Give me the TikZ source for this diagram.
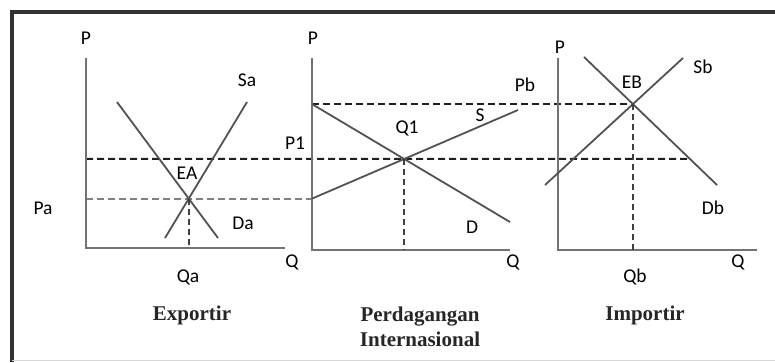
\documentclass[tikz,border=0pt]{standalone}
\usepackage{fontspec}
\setmainfont{Liberation Serif}
\newfontfamily\lblfont{Carlito}
\begin{document}
\begin{tikzpicture}[x=1pt,y=-1pt,
  lbl/.style={font=\lblfont\fontsize{19.5}{19.5}\selectfont, inner sep=0pt, text=black},
  ttl/.style={font=\bfseries\fontsize{21}{25}\selectfont, inner sep=0pt, align=center, text=black!85},
  axis/.style={draw=black!55, line width=1.8pt},
  curve/.style={draw=black!68, line width=1.8pt},
  bdash/.style={draw=black!88, line width=2pt, dash pattern=on 7pt off 4pt},
  gdash/.style={draw=black!50, line width=2pt, dash pattern=on 7pt off 4pt},
  vdash/.style={draw=black!75, line width=1.6pt, dash pattern=on 6pt off 4pt},
  frame/.style={draw=black!80, line width=3.4pt}]
\useasboundingbox (0,0) rectangle (775,362);
% frame
\coordinate (fbl) at (12,362);
\coordinate (ftl) at (12,12);
\coordinate (ftr) at (775,12);
\draw[frame] (fbl) -- (ftl) -- (ftr);
\coordinate (bbl) at (12,360);
\coordinate (bbr) at (775,360);
\draw[draw=black!15, line width=1pt] (bbl) -- (bbr);

% ---------- panel 1: Exportir ----------
\coordinate (o1) at (86,248);
\coordinate (p1top) at (86,58);
\coordinate (q1end) at (285,248);
\coordinate (sa1) at (165,238);
\coordinate (sa2) at (247,102);
\coordinate (da1) at (117,102);
\coordinate (da2) at (218,238);
\coordinate (ea) at (intersection of sa1--sa2 and da1--da2);

% ---------- panel 2 ----------
\coordinate (o2) at (312,250);
\coordinate (p2top) at (312,58);
\coordinate (q2end) at (510,250);

% ---------- panel 3: Importir ----------
\coordinate (o3) at (558,250);
\coordinate (p3top) at (558,58);
\coordinate (q3end) at (757,250);
\coordinate (sb1) at (545,185);
\coordinate (sb2) at (683,58);
\coordinate (db1) at (584,57);
\coordinate (db2) at (717,185);
\coordinate (eb) at (intersection of sb1--sb2 and db1--db2);

% panel 2 curves anchored on prices
\coordinate (pbL) at (o2 |- eb);
\coordinate (paL) at (o1 |- ea);
\coordinate (paR) at (o2 |- ea);
\coordinate (d2) at (510,222);
\coordinate (s2) at (518,110);
\coordinate (q1pt) at (intersection of pbL--d2 and paR--s2);
\coordinate (p1L) at (o1 |- q1pt);
\coordinate (p1R) at (intersection of db1--db2 and p1L--q1pt);

% dashed price lines
\draw[gdash] (paL) -- (paR);
\draw[bdash] (p1L) -- (p1R);
\draw[bdash] (pbL) -- (eb);

% axes
\draw[axis] (p1top) -- (o1) -- (q1end);
\draw[axis] (p2top) -- (o2) -- (q2end);
\draw[axis] (p3top) -- (o3) -- (q3end);

% curves
\draw[curve] (sa1) -- (sa2);
\draw[curve] (da1) -- (da2);
\draw[curve] (pbL) -- (d2);
\draw[curve] (paR) -- (s2);
\draw[curve] (sb1) -- (sb2);
\draw[curve] (db1) -- (db2);

% verticals
\coordinate (qa) at (ea |- o1);
\coordinate (q1b) at (q1pt |- o2);
\coordinate (qb) at (eb |- o3);
\draw[vdash] (ea) -- (qa);
\draw[vdash] (q1pt) -- (q1b);
\draw[vdash] (eb) -- (qb);

% labels panel 1
\node[lbl] (lP1) at (86,38) {P};
\node[lbl] (lSa) at (247,80) {Sa};
\node[lbl] (lEA) at (187,173) {EA};
\node[lbl] (lPa) at (43,208) {Pa};
\node[lbl] (lDa) at (243,223) {Da};
\node[lbl] (lQa) at (188,277) {Qa};
\node[lbl] (lQ1) at (292,262) {Q};
\node[ttl] (tE) at (192,315) {Exportir};

% labels panel 2
\node[lbl] (lP2) at (313,38) {P};
\node[lbl] (lPb) at (525,85) {Pb};
\node[lbl] (lS) at (480,115) {S};
\node[lbl] (lQone) at (407,128) {Q1};
\node[lbl] (lPone) at (295,143) {P1};
\node[lbl] (lD) at (472,227) {D};
\node[lbl] (lQ2) at (513,262) {Q};
\node[ttl] (tP) at (420,327) {Perdagangan\\Internasional};

% labels panel 3
\node[lbl] (lP3) at (560,47) {P};
\node[lbl] (lSb) at (703,67) {Sb};
\node[lbl] (lEB) at (632,82) {EB};
\node[lbl] (lDb) at (713,208) {Db};
\node[lbl] (lQb) at (635,277) {Qb};
\node[lbl] (lQ3) at (738,262) {Q};
\node[ttl] (tI) at (645,315) {Importir};
\end{tikzpicture}
\end{document}
